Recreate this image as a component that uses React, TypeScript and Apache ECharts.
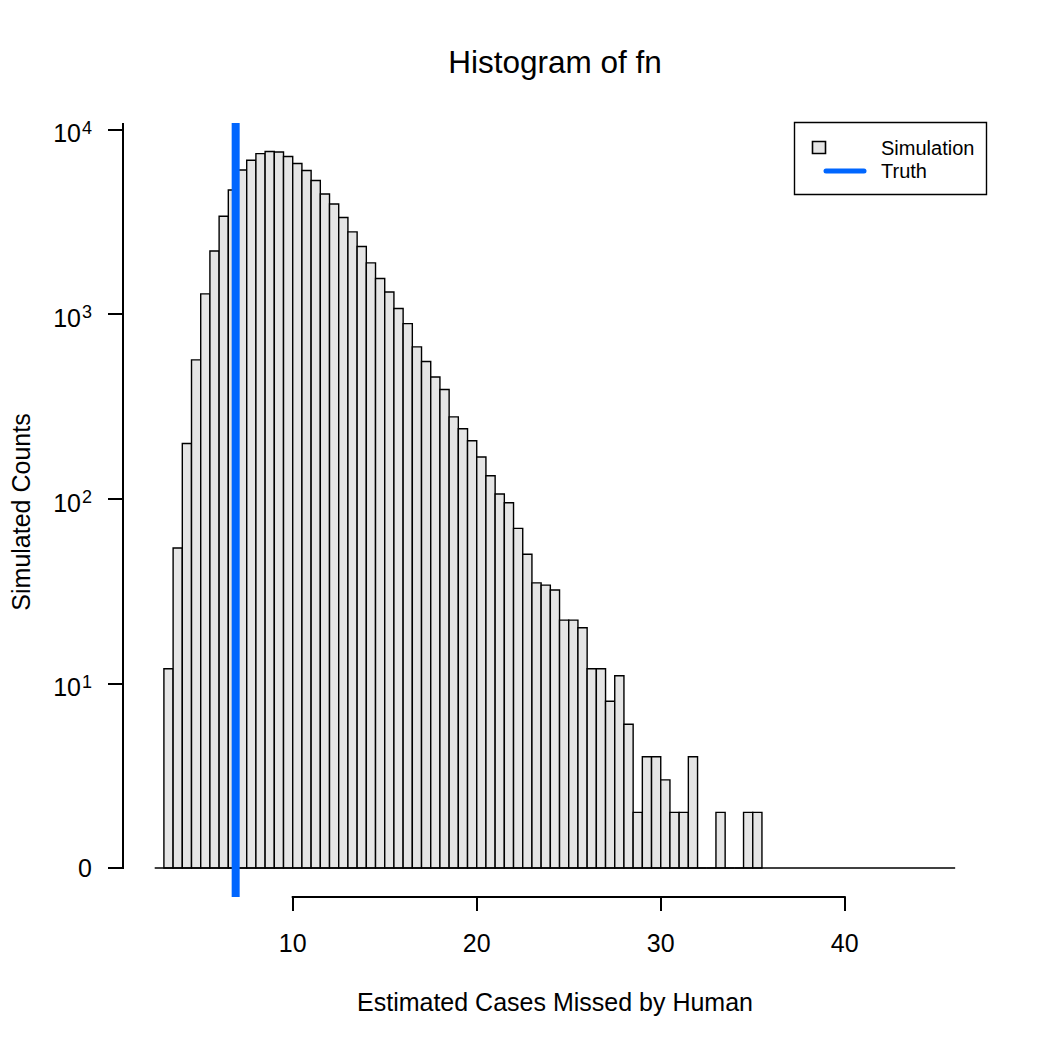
import React, { useEffect, useRef } from "react";
import * as echarts from "echarts";

// ---- data ----
const binStarts = [
  3.0, 3.5, 4.0, 4.5, 5.0, 5.5, 6.0, 6.5, 7.0, 7.5, 8.0, 8.5, 9.0, 9.5,
  10.0, 10.5, 11.0, 11.5, 12.0, 12.5, 13.0, 13.5, 14.0, 14.5, 15.0, 15.5,
  16.0, 16.5, 17.0, 17.5, 18.0, 18.5, 19.0, 19.5, 20.0, 20.5, 21.0, 21.5,
  22.0, 22.5, 23.0, 23.5, 24.0, 24.5, 25.0, 25.5, 26.0, 26.5, 27.0, 27.5,
  28.0, 28.5, 29.0, 29.5, 30.0, 30.5, 31.0, 31.5, 32.0, 32.5, 33.0, 33.5,
  34.0, 34.5, 35.0,
];
const binWidth = 0.5;
const counts = [
  12, 54, 199, 564, 1284, 2194, 3381, 4693, 6023, 6797, 7386, 7574, 7538, 7116,
  6522, 5978, 5277, 4464, 3942, 3328, 2781, 2317, 1890, 1555, 1316, 1070,
  887, 663, 553, 456, 390, 277, 239, 206, 168, 133, 106, 95,
  69, 50, 35, 34, 32, 22, 22, 20, 12, 12, 8, 11,
  6, 2, 4, 4, 3, 2, 2, 4, 1, 1, 2, 1,
  1, 2, 2,
];
const truthValue = 6.9;
const histRange = [2.5, 46];
const xTicks = [10, 20, 30, 40];
const yTickExponents = [0, 1, 2, 3, 4];
const xLimits = [0.777, 47.73];
const yLimits = [-0.157, 4.034];
const titleText = "Histogram of fn";
const xTitle = "Estimated Cases Missed by Human";
const yTitle = "Simulated Counts";
const legendLabels = ["Simulation", "Truth"];

const FONT = "'Liberation Sans', Arial, Helvetica, sans-serif";
const BAR_FILL = "#e5e5e5";
const TRUTH_COLOR = "#0066ff";

export default function App() {
  const ref = useRef<HTMLDivElement>(null);

  useEffect(() => {
    const chart = echarts.init(ref.current!, null, { renderer: "svg" });

    const barData = binStarts.map((b, i) => [b, counts[i] > 0 ? Math.log10(counts[i]) : 0]);

    const option: any = {
      animation: false,
      backgroundColor: "#ffffff",
      grid: { left: 123, right: 63, top: 123, bottom: 153 },
      xAxis: {
        type: "value",
        min: xLimits[0],
        max: xLimits[1],
        axisLine: { show: false, onZero: false },
        splitLine: { show: false },
        axisTick: {
          show: true,
          customValues: xTicks,
          length: 14,
          lineStyle: { color: "#000", width: 2 },
        },
        axisLabel: {
          customValues: xTicks,
          fontSize: 25,
          fontFamily: FONT,
          color: "#000",
          margin: 33,
        },
      },
      yAxis: {
        type: "value",
        min: yLimits[0],
        max: yLimits[1],
        axisLine: { show: false, onZero: false },
        splitLine: { show: false },
        axisTick: {
          show: true,
          customValues: yTickExponents,
          length: 15,
          lineStyle: { color: "#000", width: 2 },
        },
        axisLabel: {
          customValues: yTickExponents,
          margin: 31,
          color: "#000",
          fontFamily: FONT,
          fontSize: 25,
          formatter: (v: number) => (Math.round(v) === 0 ? "{b|0}" : `{m|10}{s|${Math.round(v)}}`),
          rich: {
            b: { fontSize: 25, fontFamily: FONT, color: "#000" },
            m: { fontSize: 25, fontFamily: FONT, color: "#000", padding: [8, 0, 0, 0] },
            s: { fontSize: 18, fontFamily: FONT, color: "#000", padding: [0, 0, 3, 1] },
          },
        },
      },
      series: [
        {
          name: legendLabels[0],
          type: "custom",
          data: barData,
          z: 2,
          renderItem: (params: any, api: any) => {
            const x0 = api.value(0);
            const h = api.value(1);
            const p0 = api.coord([x0, 0]);
            const p1 = api.coord([x0 + binWidth, h]);
            return {
              type: "rect",
              shape: { x: p0[0], y: p1[1], width: p1[0] - p0[0], height: p0[1] - p1[1] },
              style: { fill: BAR_FILL, stroke: "#000", lineWidth: 1.4 },
            };
          },
        },
        {
          name: "axes",
          type: "custom",
          data: [[0, 0]],
          z: 3,
          silent: true,
          renderItem: (params: any, api: any) => {
            const yTop = api.coord([xLimits[0], yLimits[1]]);
            const yBot = api.coord([xLimits[0], 0]);
            const xa = api.coord([xTicks[0], yLimits[0]]);
            const xb = api.coord([xTicks[xTicks.length - 1], yLimits[0]]);
            const b0 = api.coord([histRange[0], 0]);
            const b1 = api.coord([histRange[1], 0]);
            return {
              type: "group",
              children: [
                {
                  type: "line",
                  shape: { x1: yTop[0], y1: yTop[1], x2: yBot[0], y2: yBot[1] + 1 },
                  style: { stroke: "#000", lineWidth: 2 },
                },
                {
                  type: "line",
                  shape: { x1: xa[0] - 1, y1: xa[1], x2: xb[0] + 1, y2: xb[1] },
                  style: { stroke: "#000", lineWidth: 2 },
                },
                {
                  type: "line",
                  shape: { x1: b0[0], y1: b0[1], x2: b1[0], y2: b1[1] },
                  style: { stroke: "#000", lineWidth: 1.3 },
                },
              ],
            };
          },
        },
        {
          name: legendLabels[1],
          type: "custom",
          data: [[truthValue]],
          z: 4,
          renderItem: (params: any, api: any) => {
            const v = api.value(0);
            const p0 = api.coord([v, yLimits[0]]);
            const p1 = api.coord([v, yLimits[1]]);
            return {
              type: "line",
              shape: { x1: p0[0], y1: p0[1], x2: p1[0], y2: p1[1] },
              style: { stroke: TRUTH_COLOR, lineWidth: 8 },
            };
          },
        },
      ],
      graphic: [
        {
          type: "text",
          x: 555,
          y: 62,
          style: {
            text: titleText,
            fontSize: 31.5,
            fontFamily: FONT,
            fill: "#000",
            align: "center",
            verticalAlign: "middle",
          },
        },
        {
          type: "text",
          x: 555,
          y: 1002,
          style: {
            text: xTitle,
            fontSize: 25,
            fontFamily: FONT,
            fill: "#000",
            align: "center",
            verticalAlign: "middle",
          },
        },
        {
          type: "text",
          x: 21,
          y: 512,
          rotation: Math.PI / 2,
          style: {
            text: yTitle,
            fontSize: 25,
            fontFamily: FONT,
            fill: "#000",
            align: "center",
            verticalAlign: "middle",
          },
        },
        {
          type: "group",
          children: [
            {
              type: "rect",
              shape: { x: 794.5, y: 122.5, width: 192, height: 72 },
              style: { fill: "#fff", stroke: "#000", lineWidth: 1.4 },
            },
            {
              type: "rect",
              shape: { x: 812.5, y: 141.5, width: 13, height: 12 },
              style: { fill: BAR_FILL, stroke: "#000", lineWidth: 1.6 },
            },
            {
              type: "line",
              shape: { x1: 826, y1: 171, x2: 864, y2: 171 },
              style: { stroke: TRUTH_COLOR, lineWidth: 5, lineCap: "round" },
            },
            {
              type: "text",
              x: 881,
              y: 148,
              style: {
                text: legendLabels[0],
                fontSize: 20,
                fontFamily: FONT,
                fill: "#000",
                align: "left",
                verticalAlign: "middle",
              },
            },
            {
              type: "text",
              x: 881,
              y: 171,
              style: {
                text: legendLabels[1],
                fontSize: 20,
                fontFamily: FONT,
                fill: "#000",
                align: "left",
                verticalAlign: "middle",
              },
            },
          ],
        },
      ],
    };

    chart.setOption(option);
    return () => chart.dispose();
  }, []);

  return (
    <div
      ref={ref}
      style={{ position: "fixed", left: 0, top: 0, width: 1050, height: 1050, background: "#fff" }}
    />
  );
}
